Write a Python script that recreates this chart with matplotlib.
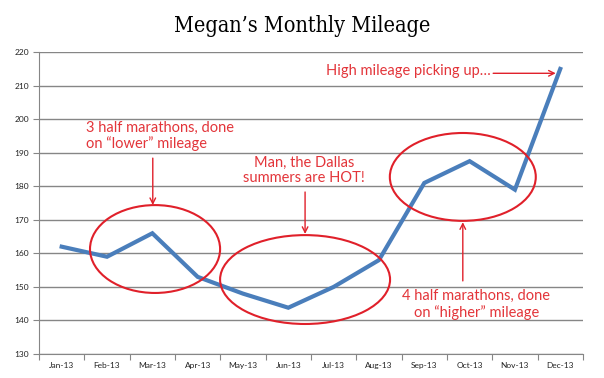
import matplotlib.pyplot as plt
from matplotlib.patches import Ellipse

# Monthly mileage, 2013
months = ["Jan-13", "Feb-13", "Mar-13", "Apr-13", "May-13", "Jun-13",
          "Jul-13", "Aug-13", "Sep-13", "Oct-13", "Nov-13", "Dec-13"]
miles = [162, 159, 166, 153, 148, 143.8, 150, 158, 181, 187.5, 179, 215]
y_ticks = [130, 140, 150, 160, 170, 180, 190, 200, 210, 220]

red = "#e0202a"
txt_red = "#e3353a"
blue = "#4a7ebb"

fig = plt.figure(figsize=(6.04, 3.78), dpi=100)
ax = fig.add_axes([0.0646, 0.0635, 0.9005, 0.7985])

x = list(range(len(months)))
ax.plot(x, miles, color=blue, lw=3.0, solid_joinstyle="miter", zorder=3)

ax.set_xlim(-0.5, 11.5)
ax.set_ylim(130, 220)
ax.set_yticks(y_ticks)
ax.yaxis.grid(True, color="#868686", lw=1)
ax.set_axisbelow(True)

# category boundaries as major ticks, labels on the centres
ax.set_xticks([i - 0.5 for i in range(len(months) + 1)])
ax.set_xticklabels([])
ax.set_xticks(x, minor=True)
ax.set_xticklabels(months, minor=True)
ax.tick_params(axis="x", which="minor", length=0, pad=6)
ax.tick_params(axis="x", which="major", length=4, color="#868686")
ax.tick_params(axis="y", length=4, color="#868686", pad=3)
for lab in ax.get_xticklabels(minor=True) + ax.get_yticklabels():
    lab.set_fontsize(6)
    lab.set_family("Lato")
    lab.set_color("#222222")

for s in ["top", "right"]:
    ax.spines[s].set_visible(False)
for s in ["left", "bottom"]:
    ax.spines[s].set_color("#868686")

fig.text(0.5, 0.932, "Megan’s Monthly Mileage", ha="center", va="center",
         fontsize=15.5, family="DejaVu Serif", fontstretch="condensed",
         color="black")

# circles
for cx, cy, w, h in [(2.06, 161.3, 2.87, 26.2), (5.37, 152.2, 3.75, 26.5),
                     (8.85, 182.8, 3.22, 26.2)]:
    ax.add_patch(Ellipse((cx, cy), w, h, fill=False, ec=red, lw=1.5, zorder=4))

# notes
tkw = dict(color=txt_red, fontsize=10.5, family="Lato", linespacing=1.15)
ax.text(0.54, 195, "3 half marathons, done\non “lower” mileage",
        ha="left", va="center", **tkw)
ax.text(5.35, 184.7, "Man, the Dallas\nsummers are HOT!",
        ha="center", va="center", multialignment="center", **tkw)
ax.text(5.83, 214.3, "High mileage picking up…", ha="left", va="center", **tkw)
ax.text(9.15, 144.8, "4 half marathons, done\non “higher” mileage",
        ha="center", va="center", multialignment="center", **tkw)

akw = dict(arrowstyle="->", color=red, lw=1.0, shrinkA=0, shrinkB=0)
ax.annotate("", xy=(2.01, 174.4), xytext=(2.01, 188.4), arrowprops=akw)
ax.annotate("", xy=(5.37, 165.8), xytext=(5.37, 178.3), arrowprops=akw)
ax.annotate("", xy=(8.85, 169.3), xytext=(8.85, 151.8), arrowprops=akw)
ax.annotate("", xy=(10.9, 213.7), xytext=(9.52, 213.7), arrowprops=akw)

fig.savefig("out.png", dpi=100)
